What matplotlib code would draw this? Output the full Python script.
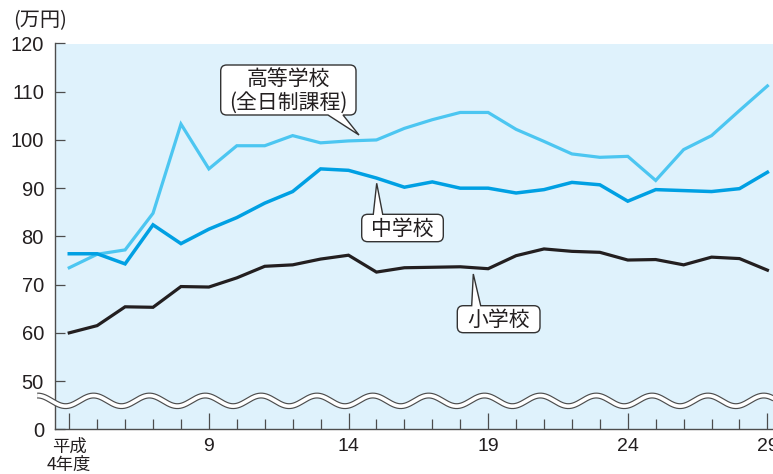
import numpy as np
import matplotlib
matplotlib.use("Agg")
import matplotlib.pyplot as plt
from matplotlib.path import Path
from matplotlib.patches import PathPatch
from matplotlib.transforms import IdentityTransform

# 学習費総額の推移(万円)  平成4年度〜29年度
years = list(range(4, 30))
high_school = [73.5, 76.3, 77.2, 84.8, 103.3, 94.0, 98.8, 98.8, 100.9, 99.4,
               99.8, 100.0, 102.4, 104.2, 105.7, 105.7, 102.2, 99.7, 97.1, 96.4,
               96.6, 91.6, 98.0, 100.9, 106.1, 111.2]
junior_high = [76.4, 76.4, 74.3, 82.4, 78.5, 81.5, 83.9, 86.9, 89.3, 94.0,
               93.7, 92.1, 90.2, 91.3, 90.0, 90.0, 89.0, 89.7, 91.2, 90.7,
               87.3, 89.7, 89.5, 89.3, 89.9, 93.3]
elementary = [60.0, 61.5, 65.4, 65.3, 69.6, 69.5, 71.4, 73.8, 74.1, 75.3,
              76.1, 72.6, 73.5, 73.6, 73.7, 73.3, 76.0, 77.4, 76.9, 76.7,
              75.1, 75.2, 74.1, 75.7, 75.4, 73.0]

y_tick_values = [0, 50, 60, 70, 80, 90, 100, 110, 120]
x_major = [4, 9, 14, 19, 24, 29]
x_major_labels = ["平成\n4年度", "9", "14", "19", "24", "29"]

BREAK = 40  # values from 0 to 50 share one grid step below the axis break


def squeeze(v):
    v = np.asarray(v, dtype=float)
    return np.where(v >= 50, v - BREAK, v * 10 / 50)


CJK = ["Noto Sans CJK JP", "DejaVu Sans"]
NUM = ["Liberation Sans", "DejaVu Sans"]
TXT = "#231f20"

W, H, DPI = 773, 474, 100
fig = plt.figure(figsize=(W / DPI, H / DPI), dpi=DPI)
ax = fig.add_axes([55 / W, 1 - 429.3 / H, 1 - 55 / W, (429.3 - 43.5) / H])
ax.set_facecolor("#dff2fc")
ax.set_xlim(3.49, 29.2)
ax.set_ylim(0, 80)

for s in ("top", "right"):
    ax.spines[s].set_visible(False)
for s in ("left", "bottom"):
    ax.spines[s].set_color("#4d4d4d")
    ax.spines[s].set_linewidth(1.0)

ax.plot(years, squeeze(high_school), color="#4cc6f1", lw=2.3, zorder=3,
        solid_joinstyle="miter")
ax.plot(years, squeeze(junior_high), color="#00a0e3", lw=2.5, zorder=3.2,
        solid_joinstyle="miter")
ax.plot(years, squeeze(elementary), color=TXT, lw=2.3, zorder=3.1,
        solid_joinstyle="miter")

# y axis
ax.set_yticks(squeeze(y_tick_values))
ax.set_yticklabels([str(v) for v in y_tick_values], family=NUM, fontsize=14.5,
                   color=TXT)
ax.tick_params(axis="y", direction="in", length=7.2, width=0.9,
               color="#4d4d4d", pad=8)

# x axis
ax.set_xticks(x_major)
ax.set_xticklabels(x_major_labels, fontsize=14, color=TXT, linespacing=1.05)
for lab, txt in zip(ax.get_xticklabels(), x_major_labels):
    lab.set_family(CJK if "平成" in txt else NUM)
    if "平成" in txt:
        lab.set_fontsize(12.5)
ax.set_xticks(years, minor=True)
ax.tick_params(axis="x", which="major", direction="in", length=11.5,
               width=0.9, color="#4d4d4d", pad=6)
ax.tick_params(axis="x", which="minor", direction="in", length=7.2,
               width=0.9, color="#4d4d4d")

# wavy break band
wx = np.linspace(2.85, 30, 1200)
wy = 5.9 + 1.1 * np.cos(np.pi * (wx - 4.87))
ax.plot(wx, wy, color="#4d4d4d", lw=4.3, clip_on=False, zorder=6,
        solid_capstyle="butt")
ax.plot(wx, wy, color="white", lw=2.6, clip_on=False, zorder=6.1,
        solid_capstyle="butt")

fig.text(13 / W, 1 - 21 / H, "(万円)", family=CJK, fontsize=14.5, color=TXT,
         ha="left", va="center")


def callout(text, tip, box, tail, side, fontsize=15):
    """Rounded label box (pixel coords, y down) with a pointer to tip."""
    x0, y0, x1, y1 = box
    to_disp = lambda x, y: (x, H - y)
    r = 6
    L, B = x0, H - y1
    R, T = x1, H - y0
    tx, ty = to_disp(*tip)
    b0, b1 = tail
    verts, codes = [], []

    def add(p, c):
        verts.append(p)
        codes.append(c)

    add((L + r, B), Path.MOVETO)
    if side == "bottom":
        add((b0, B), Path.LINETO)
        add((tx, ty), Path.LINETO)
        add((b1, B), Path.LINETO)
    add((R - r, B), Path.LINETO)
    add((R, B), Path.CURVE3)
    add((R, B + r), Path.CURVE3)
    add((R, T - r), Path.LINETO)
    add((R, T), Path.CURVE3)
    add((R - r, T), Path.CURVE3)
    if side == "top":
        add((b1, T), Path.LINETO)
        add((tx, ty), Path.LINETO)
        add((b0, T), Path.LINETO)
    add((L + r, T), Path.LINETO)
    add((L, T), Path.CURVE3)
    add((L, T - r), Path.CURVE3)
    add((L, B + r), Path.LINETO)
    add((L, B), Path.CURVE3)
    add((L + r, B), Path.CURVE3)
    add((L + r, B), Path.CLOSEPOLY)
    patch = PathPatch(Path(verts, codes), facecolor="white",
                      edgecolor="#333333", lw=1.0, transform=IdentityTransform(),
                      zorder=8, joinstyle="miter")
    fig.add_artist(patch)
    fig.text((x0 + x1) / 2 / W, 1 - ((y0 + y1) / 2 + 1) / H, text, family=CJK,
             fontsize=fontsize, color=TXT, ha="center", va="center",
             linespacing=1.12, zorder=9)


callout("高等学校\n(全日制課程)", (359, 135), (220.7, 65, 356, 115),
        (328, 343), "bottom")
callout("中学校", (376.7, 183.3), (361.7, 214.3, 443.3, 241.7),
        (373.3, 382.7), "top")
callout("小学校", (473.3, 274), (457.3, 305.7, 540, 332.7),
        (471.7, 480.7), "top")

fig.savefig("out.png", dpi=DPI, facecolor="white")
